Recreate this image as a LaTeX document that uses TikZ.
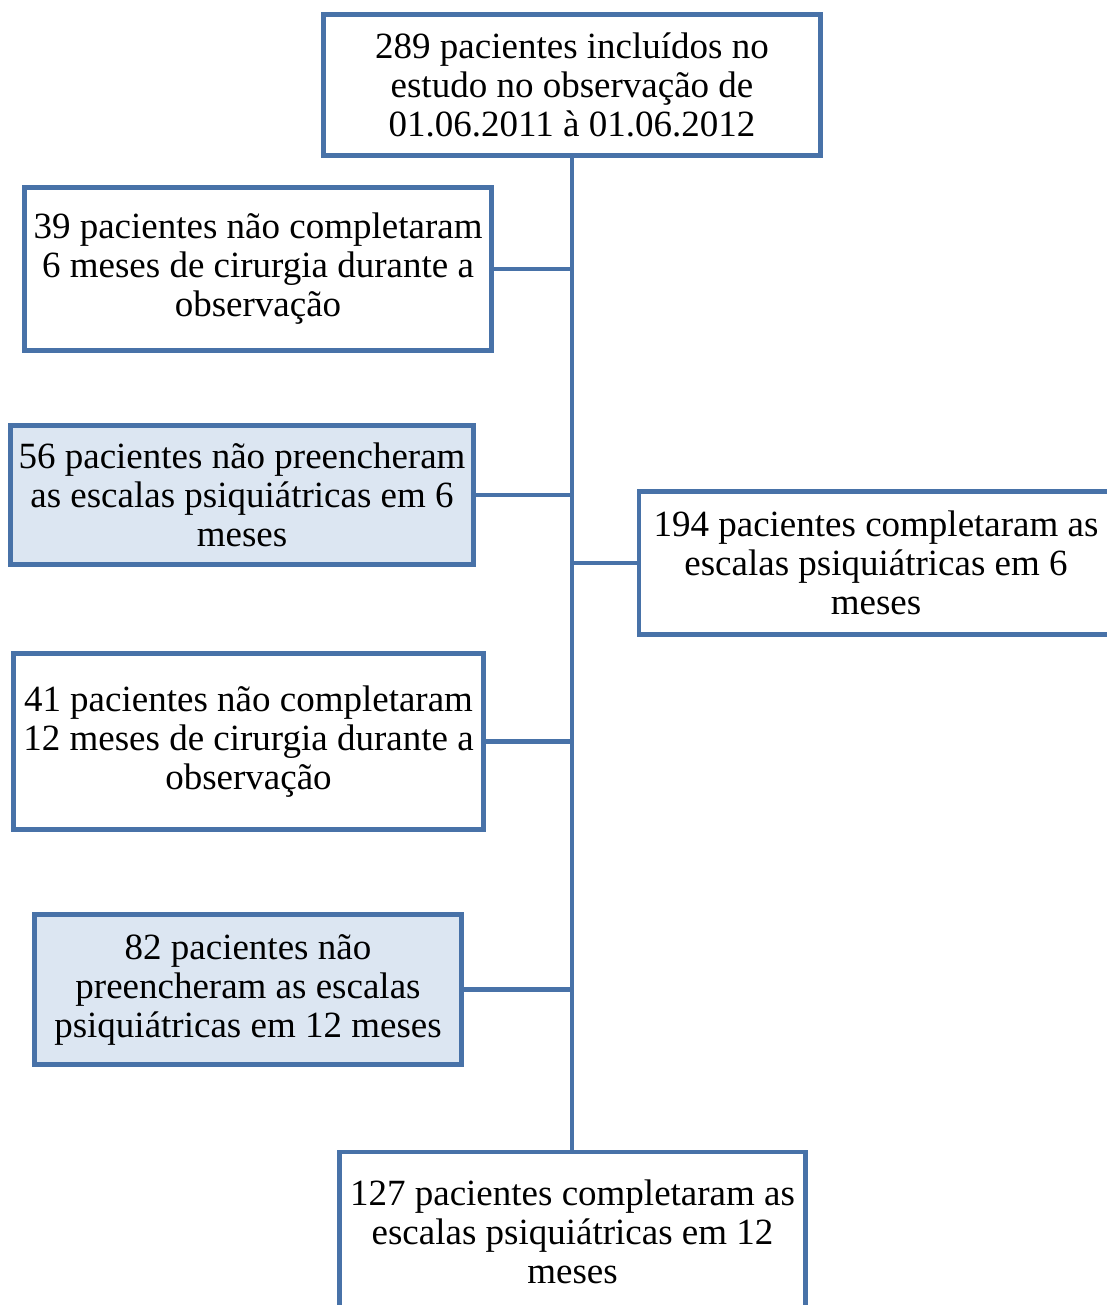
\documentclass[tikz,border=0pt]{standalone}
\usepackage{fontspec}
\setmainfont{Liberation Serif}
\definecolor{boxline}{RGB}{72,114,168}
\definecolor{boxfill}{RGB}{220,230,242}
\begin{document}
\begin{tikzpicture}[x=1pt,y=-1pt,
  flowbox/.style={draw=boxline, line width=4.8pt, rectangle, inner sep=0pt, outer sep=0pt,
    align=center, font=\fontsize{37}{39}\selectfont, fill=white},
  shaded/.style={flowbox, fill=boxfill},
  link/.style={draw=boxline, line width=4.8pt}]
\useasboundingbox (0,0) rectangle (1107,1305);
\clip (0,0) rectangle (1107,1305);
\node[flowbox, minimum width=497pt, minimum height=141pt] (top) at (572,85)
  {289 pacientes incluídos no\\estudo no observação de\\01.06.2011 à 01.06.2012};
\node[flowbox, minimum width=467pt, minimum height=163pt] (b39) at (258,269)
  {39 pacientes não completaram\\6 meses de cirurgia durante a\\observação};
\node[shaded, minimum width=463pt, minimum height=139pt] (b56) at (242,495)
  {56 pacientes não preencheram\\as escalas psiquiátricas em 6\\meses};
\node[flowbox, minimum width=474pt, minimum height=143pt] (b194) at (876,563)
  {194 pacientes completaram as\\escalas psiquiátricas em 6\\meses};
\node[flowbox, minimum width=470pt, minimum height=176pt] (b41) at (248.5,741.5)
  {41 pacientes não completaram\\12 meses de cirurgia durante a\\observação};
\node[shaded, minimum width=427pt, minimum height=150pt] (b82) at (248,989.5)
  {82 pacientes não\\preencheram as escalas\\psiquiátricas em 12 meses};
\node[flowbox, minimum width=466pt, minimum height=160pt] (b127) at (572.5,1232)
  {127 pacientes completaram as\\escalas psiquiátricas em 12\\meses};
\draw[link] (top.south) -- (top.south |- b127.north);
\draw[link] (b39.east) -- (b39.east -| top.south);
\draw[link] (b56.east) -- (b56.east -| top.south);
\draw[link] (b194.west) -- (b194.west -| top.south);
\draw[link] (b41.east) -- (b41.east -| top.south);
\draw[link] (b82.east) -- (b82.east -| top.south);
\end{tikzpicture}
\end{document}
